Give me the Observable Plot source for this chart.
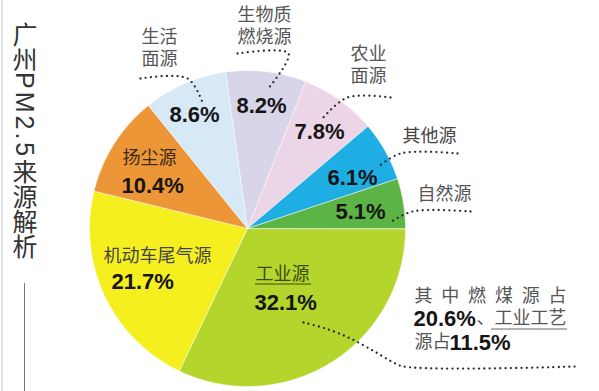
<!DOCTYPE html>
<html><head><meta charset="utf-8">
<script src="https://cdn.jsdelivr.net/npm/d3@7"></script>
<script src="https://cdn.jsdelivr.net/npm/@observablehq/plot@0.6"></script>
<style>
  html,body{margin:0;padding:0;background:#fff;}
  #wrap{position:relative;width:599px;height:391px;overflow:hidden;}
  #title{position:absolute;left:12px;top:22px;writing-mode:vertical-rl;font-family:"Noto Sans CJK SC",sans-serif;font-size:25px;line-height:25px;color:#333;}
  #title .lat{letter-spacing:3px;font-family:"Liberation Sans","Noto Sans CJK SC",sans-serif;}
  #titleRule{position:absolute;left:24px;top:283px;width:0;height:110px;border-left:1.5px solid #777;}
  #chart svg{display:block;}
</style>
</head><body>
<div id="wrap">
  <div id="chart"></div>
  <div id="title">广州<span class="lat">PM2.5</span>来源解析</div>
  <div id="titleRule"></div>
</div>
<script>
// ---- data ----
const sources = ["工业源","机动车尾气源","扬尘源","生活面源","生物质燃烧源","农业面源","其他源","自然源"];
const shares = [32.1, 21.7, 10.4, 8.6, 8.2, 7.8, 6.1, 5.1];
const shareLabels = ["32.1%","21.7%","10.4%","8.6%","8.2%","7.8%","6.1%","5.1%"];
const nameLabels = ["工业源","机动车尾气源","扬尘源","生活\n面源","生物质\n燃烧源","农业\n面源","其他源","自然源"];
const noteChars = ["其","中","燃","煤","源","占"];
const noteCoal = "20.6%";
const noteMid = "、工业工艺";
const noteEnd1 = "源占";
const noteProcess = "11.5%";

// ---- style / layout ----
const sliceColors = ["#b3d52c","#f6ef1f","#ec9638","#d7e9f6","#d9d5e9","#ecd5e6","#1eaee4","#5db446"];
const cx = 247, cy = 228, R = 158;
const valuePos = [[254,302,"start"],[111,281,"start"],[121,185,"start"],[194,114,"middle"],[261,105,"middle"],[319,131,"middle"],[352,177,"middle"],[360,211,"middle"]];
// name label positions: top of first line
const namePos = [[255,264],[103,246],[122,148],[141,27],[237,5],[350,44],[402,126],[417,184]];
const nameInk = ["#3c4a10","#444","#3a2a12","#555","#555","#555","#444","#555"];
const leaders = [
  [[303,322],[325,328],[350,338],[374,351],[391,361],[403,366],[576,366]],
  [[140,78],[187,78],[202,102]],
  [[237,53],[288,53],[267,89]],
  [[390,97],[347,97],[322,118]],
  [[457,153],[400,153],[377,167]],
  [[470,211],[412,211],[390,222]]
];

// ---- pie polygons built from the data ----
const arcs = d3.pie().sort(null).startAngle(Math.PI/2).endAngle(Math.PI/2 + 2*Math.PI)(shares);
const poly = [];
arcs.forEach((a, i) => {
  const name = sources[i];
  poly.push({name, x: cx, y: cy});
  const n = Math.max(4, Math.ceil((a.endAngle - a.startAngle) / 0.008));
  for (let k = 0; k <= n; k++) {
    const t = a.startAngle + (a.endAngle - a.startAngle) * k / n;
    poly.push({name, x: cx + R * Math.sin(t), y: cy - R * Math.cos(t)});
  }
});

const valueData = shareLabels.map((t, i) => ({t, x: valuePos[i][0], y: valuePos[i][1], a: valuePos[i][2]}));
const nameData = nameLabels.map((t, i) => ({t, x: namePos[i][0], y: namePos[i][1], c: nameInk[i]}));
const leaderData = [];
leaders.forEach((pts, i) => pts.forEach(p => leaderData.push({k: i, x: p[0], y: p[1]})));
const noteCharData = noteChars.map((t, i) => ({t, x: 414 + i*26.8, y: 296}));

const cjk = "Noto Sans CJK SC";
const lat = "Liberation Sans";

const plot = Plot.plot({
  width: 599, height: 391, margin: 0,
  x: {domain: [0, 599], range: [0, 599], axis: null},
  y: {domain: [0, 391], range: [0, 391], axis: null},
  color: {domain: sources, range: sliceColors},
  style: {background: "transparent"},
  marks: [
    Plot.ruleX([1.5], {stroke: "#e2e2e2", strokeWidth: 2}),
    Plot.line(poly, {x: "x", y: "y", z: "name", fill: "name", stroke: "#ffffff", strokeWidth: 0.8, strokeOpacity: 0.7, curve: "linear-closed"}),
    Plot.line(leaderData, {x: "x", y: "y", z: "k", stroke: "#2a2a2a", strokeWidth: 2.3, strokeDasharray: "0 5.3", strokeLinecap: "round", curve: "catmull-rom"}),
    Plot.text(nameData, {x: "x", y: "y", text: "t", textAnchor: "start", lineAnchor: "top", lineHeight: 1.22, fill: d => d.c, fontFamily: cjk, fontSize: 18}),
    Plot.text(valueData.filter(d => d.a === "start"), {x: "x", y: "y", text: "t", textAnchor: "start", fill: "#151515", fontFamily: lat, fontWeight: "bold", fontSize: 22}),
    Plot.text(valueData.filter(d => d.a === "middle"), {x: "x", y: "y", text: "t", textAnchor: "middle", fill: "#151515", fontFamily: lat, fontWeight: "bold", fontSize: 22}),
    Plot.ruleY([283.5], {x1: 255, x2: 311, stroke: "#3c4a10", strokeWidth: 1}),
    Plot.text(noteCharData, {x: "x", y: "y", text: "t", textAnchor: "start", fill: "#555", fontFamily: cjk, fontSize: 18}),
    Plot.text([noteCoal], {x: 413, y: 318, text: d => d, textAnchor: "start", fill: "#151515", fontFamily: lat, fontWeight: "bold", fontSize: 22}),
    Plot.text([noteMid], {x: 476, y: 318, text: d => d, textAnchor: "start", fill: "#555", fontFamily: cjk, fontSize: 18}),
    Plot.ruleY([328.5], {x1: 491, x2: 567, stroke: "#666", strokeWidth: 1}),
    Plot.text([noteEnd1], {x: 414, y: 342, text: d => d, textAnchor: "start", fill: "#555", fontFamily: cjk, fontSize: 18}),
    Plot.text([noteProcess], {x: 449, y: 342, text: d => d, textAnchor: "start", fill: "#151515", fontFamily: lat, fontWeight: "bold", fontSize: 22})
  ]
});
document.getElementById("chart").appendChild(plot);
</script>
</body></html>
